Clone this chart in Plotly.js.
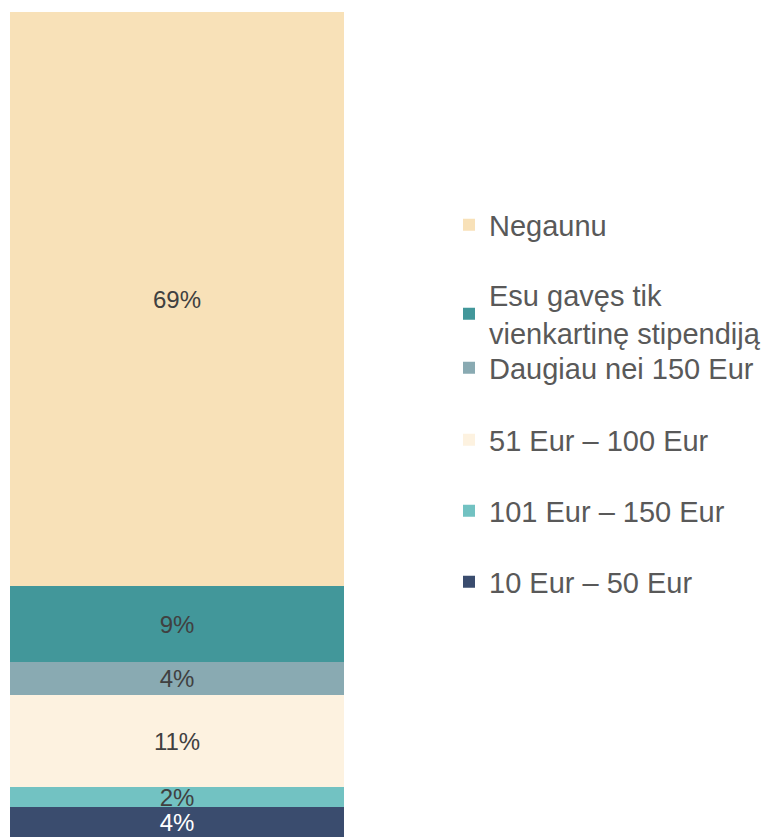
<!DOCTYPE html>
<html>
<head>
<meta charset="utf-8">
<script src="https://cdn.plot.ly/plotly-3.0.1.min.js"></script>
<style>html,body{margin:0;padding:0;background:#fff;}#chart{width:767px;height:837px;}</style>
</head>
<body>
<div id="chart"></div>
<script>
// Stack order bottom -> top
const categories = [""];
const seriesNames = ["10 Eur – 50 Eur", "101 Eur – 150 Eur", "51 Eur – 100 Eur", "Daugiau nei 150 Eur", "Esu gavęs tik<br>vienkartinę stipendiją", "Negaunu"];
const values10_50 = [3.6];
const values101_150 = [2.4];
const values51_100 = [11.0];
const valuesDaugiau = [4.0];
const valuesVienkartine = [9.1];
const valuesNegaunu = [68.9];

const seriesValues = [values10_50, values101_150, values51_100, valuesDaugiau, valuesVienkartine, valuesNegaunu];
const colors = ["#3a4c6e", "#72c2c2", "#fdf2e0", "#89aab2", "#42979a", "#f8e1b8"];
const textColors = ["#ffffff", "#404040", "#404040", "#404040", "#404040", "#404040"];
const legendIds = ["legend6", "legend5", "legend4", "legend3", "legend2", "legend"];
// legend vertical centres (pixels from top)
const legendPix = [582, 511, 440, 368, 314, 225];

const total = seriesValues.reduce((s, v) => s + v[0], 0);

const traces = seriesNames.map((name, i) => ({
  type: "bar",
  x: categories,
  y: seriesValues[i],
  name: name,
  legend: legendIds[i],
  marker: {color: colors[i], line: {width: 0}},
  texttemplate: "%{y:.0f}%",
  textposition: "inside",
  insidetextanchor: "middle",
  textangle: 0,
  constraintext: "none",
  textfont: {family: "Liberation Sans, Arial, sans-serif", size: 24, color: textColors[i]},
  hoverinfo: "skip"
}));

const plotTop = 12, plotH = 825, plotL = 10, plotW = 334;
const layout = {
  width: 767,
  height: 837,
  margin: {l: plotL, r: 767 - plotL - plotW, t: plotTop, b: 837 - plotTop - plotH, pad: 0},
  barmode: "stack",
  bargap: 0,
  paper_bgcolor: "#ffffff",
  plot_bgcolor: "#ffffff",
  font: {family: "Liberation Sans, Arial, sans-serif", color: "#595959"},
  showlegend: true,
  uniformtext: {mode: "show", minsize: 24},
  xaxis: {visible: false, fixedrange: true},
  yaxis: {visible: false, range: [0, total], fixedrange: true}
};
legendIds.forEach((id, i) => {
  layout[id] = {
    x: (449 - plotL) / plotW,
    xanchor: "left",
    y: (plotTop + plotH - legendPix[i]) / plotH,
    yanchor: "middle",
    bgcolor: "rgba(0,0,0,0)",
    borderwidth: 0,
    font: {family: "Liberation Sans, Arial, sans-serif", size: 29, color: "#595959"},
    itemclick: false,
    itemdoubleclick: false
  };
});

Plotly.newPlot("chart", traces, layout, {displayModeBar: false, staticPlot: true});
</script>
</body>
</html>
